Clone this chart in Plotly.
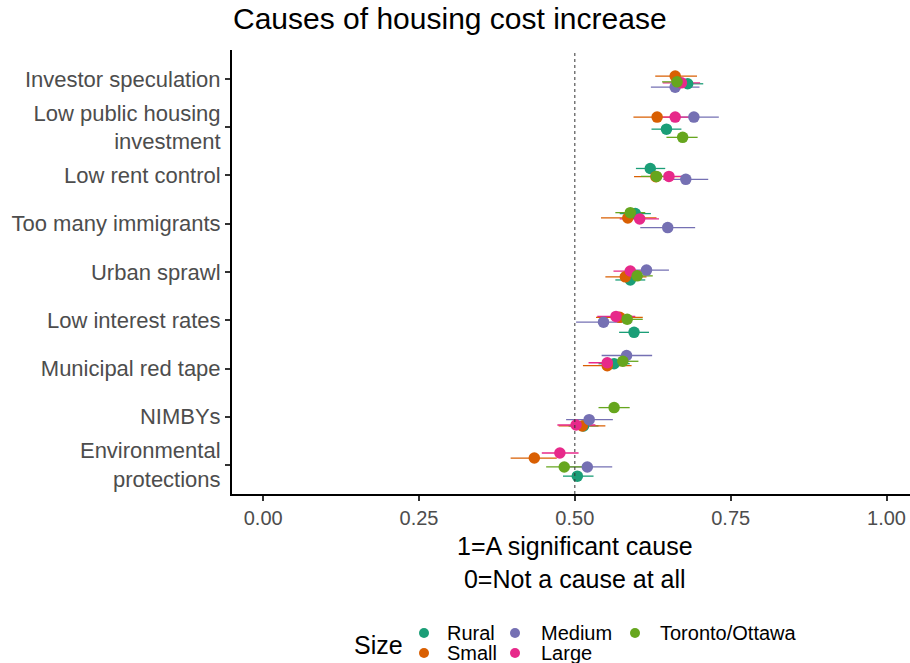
import plotly.graph_objects as go

# Survey items, top to bottom
causes = [
    "Investor speculation",
    "Low public housing<br>investment",
    "Low rent control",
    "Too many immigrants",
    "Urban sprawl",
    "Low interest rates",
    "Municipal red tape",
    "NIMBYs",
    "Environmental<br>protections",
]

sizes = ["Rural", "Small", "Medium", "Large", "Toronto/Ottawa"]
colors = ["#1B9E77", "#D95F02", "#7570B3", "#E7298A", "#66A61E"]

# Mean score per community size (same order as causes)
rural_mean = [0.681, 0.647, 0.621, 0.597, 0.589, 0.595, 0.563, 0.514, 0.504]
small_mean = [0.661, 0.632, 0.630, 0.585, 0.581, 0.572, 0.552, 0.512, 0.435]
medium_mean = [0.661, 0.691, 0.678, 0.649, 0.615, 0.546, 0.583, 0.523, 0.520]
large_mean = [0.671, 0.661, 0.651, 0.604, 0.589, 0.566, 0.552, 0.502, 0.476]
toronto_mean = [0.664, 0.673, 0.631, 0.589, 0.600, 0.584, 0.577, 0.563, 0.483]

# Lower / upper confidence limits
rural_lo = [0.656, 0.623, 0.598, 0.572, 0.565, 0.571, 0.538, 0.490, 0.481]
rural_hi = [0.706, 0.671, 0.645, 0.622, 0.613, 0.619, 0.588, 0.538, 0.530]
small_lo = [0.629, 0.594, 0.595, 0.542, 0.549, 0.534, 0.513, 0.474, 0.397]
small_hi = [0.696, 0.670, 0.669, 0.631, 0.615, 0.609, 0.591, 0.549, 0.471]
medium_lo = [0.622, 0.651, 0.642, 0.605, 0.580, 0.502, 0.543, 0.486, 0.480]
medium_hi = [0.700, 0.731, 0.714, 0.693, 0.651, 0.592, 0.624, 0.561, 0.560]
large_lo = [0.641, 0.631, 0.621, 0.572, 0.562, 0.536, 0.522, 0.472, 0.447]
large_hi = [0.701, 0.692, 0.681, 0.635, 0.617, 0.597, 0.583, 0.533, 0.506]
toronto_lo = [0.640, 0.647, 0.606, 0.565, 0.576, 0.560, 0.553, 0.538, 0.454]
toronto_hi = [0.689, 0.697, 0.656, 0.613, 0.625, 0.609, 0.602, 0.588, 0.512]

# Vertical jitter applied to each point (category units)
rural_jit = [-0.10, -0.04, 0.145, 0.21, -0.165, -0.25, 0.10, -0.19, -0.23]
small_jit = [0.06, 0.21, -0.025, 0.12, -0.10, 0.06, 0.06, -0.19, 0.145]
medium_jit = [-0.17, 0.21, -0.08, -0.08, 0.04, -0.04, 0.27, -0.06, -0.04]
large_jit = [-0.08, 0.21, -0.02, 0.10, 0.02, 0.08, 0.12, -0.17, 0.25]
toronto_jit = [-0.06, -0.21, -0.02, 0.23, -0.08, 0.02, 0.15, 0.19, -0.04]

x_ticks = [0.0, 0.25, 0.5, 0.75, 1.0]
x_labels = ["0.00", "0.25", "0.50", "0.75", "1.00"]
x_title = "1=A significant cause<br>0=Not a cause at all"

groups = [
    (rural_mean, rural_lo, rural_hi, rural_jit),
    (small_mean, small_lo, small_hi, small_jit),
    (medium_mean, medium_lo, medium_hi, medium_jit),
    (large_mean, large_lo, large_hi, large_jit),
    (toronto_mean, toronto_lo, toronto_hi, toronto_jit),
]

n = len(causes)
base_y = [n - i for i in range(n)]  # top item highest

fig = go.Figure()

# interval layer
for name, col, (m, lo, hi, jit) in zip(sizes, colors, groups):
    y = [b + j for b, j in zip(base_y, jit)]
    fig.add_trace(go.Scatter(
        x=m, y=y, mode="markers",
        marker=dict(size=1, color=col, opacity=0),
        error_x=dict(type="data", symmetric=False,
                     array=[h - v for h, v in zip(hi, m)],
                     arrayminus=[v - l for v, l in zip(m, lo)],
                     color=col, thickness=1.3, width=0),
        showlegend=False, hoverinfo="skip",
    ))

# point layer
for name, col, (m, lo, hi, jit) in zip(sizes, colors, groups):
    y = [b + j for b, j in zip(base_y, jit)]
    fig.add_trace(go.Scatter(
        x=m, y=y, mode="markers", name=name,
        marker=dict(size=11.5, color=col, line=dict(width=0)),
        showlegend=False,
    ))

fig.add_vline(x=0.5, line=dict(color="#333333", width=1, dash="3px,3px"))

font_family = "Liberation Sans, Arial, sans-serif"

fig.update_layout(
    width=910, height=663,
    margin=dict(l=232, r=0, t=50, b=169),
    plot_bgcolor="white", paper_bgcolor="white",
    font=dict(family=font_family, color="black"),
    title=dict(text="Causes of housing cost increase",
               x=233 / 910, xanchor="left", xref="container",
               y=1 - 18 / 663, yanchor="middle", yref="container",
               font=dict(size=30, color="black")),
    xaxis=dict(range=[-0.05, 1.0377], tickvals=x_ticks, ticktext=x_labels,
               showgrid=False, zeroline=False,
               showline=True, linecolor="black", linewidth=2,
               ticks="outside", ticklen=5, tickcolor="#333333", tickwidth=1.5,
               tickfont=dict(size=20, color="#4D4D4D")),
    yaxis=dict(range=[0.4, n + 0.6], tickvals=base_y, ticktext=causes,
               showgrid=False, zeroline=False,
               showline=True, linecolor="black", linewidth=2,
               ticks="outside", ticklen=5, tickcolor="#333333", tickwidth=1.5,
               tickfont=dict(size=22, color="#4D4D4D")),
)

# paper coordinates relative to the plot area (pixel helpers for the layout)
def px_x(p):
    return (p - 232) / (910 - 232)

def px_y(p):
    return (494 - p) / (494 - 50)

# x-axis title, two lines centred on the plot
fig.add_annotation(text=x_title, x=px_x(575), y=px_y(562),
                   xref="paper", yref="paper", xanchor="center", yanchor="middle",
                   showarrow=False, font=dict(size=25, color="black"))

# Legend below the axis title: two rows, filled column by column
leg_row_y = [633, 653]
leg_cols = [(424, 445), (515, 539), (635, 658)]
fig.add_annotation(text="Size", x=px_x(352), y=px_y(645),
                   xref="paper", yref="paper", xanchor="left", yanchor="middle",
                   showarrow=False, font=dict(size=25, color="black"))

for k, (name, col) in enumerate(zip(sizes, colors)):
    c, r = divmod(k, 2)
    mx, tx = leg_cols[c]
    ry = leg_row_y[r]
    fig.add_shape(type="circle", xref="paper", yref="paper",
                  xsizemode="pixel", ysizemode="pixel",
                  xanchor=px_x(mx), yanchor=px_y(ry),
                  x0=-5, x1=5, y0=-5, y1=5,
                  fillcolor=col, line=dict(width=0))
    fig.add_annotation(text=name, x=px_x(tx), y=px_y(ry),
                       xref="paper", yref="paper", xanchor="left", yanchor="middle",
                       showarrow=False, font=dict(size=20, color="black"))

fig.write_html("out.html")
